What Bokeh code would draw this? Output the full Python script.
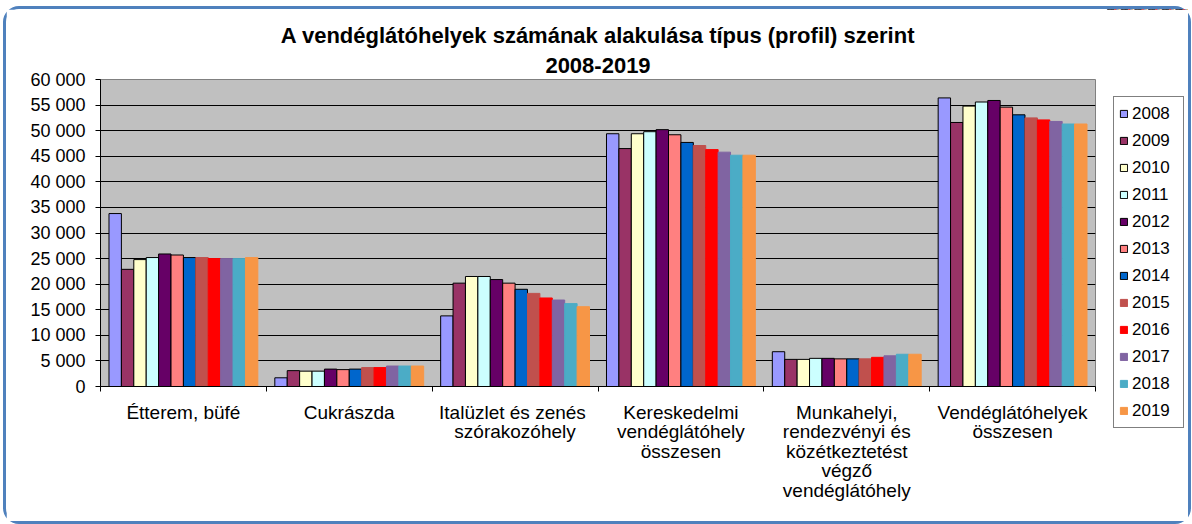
from bokeh.plotting import figure
from bokeh.layouts import row
from bokeh.models import (ColumnDataSource, Range1d, LinearAxis, FixedTicker, Legend, LegendItem, Title)
from bokeh.transform import dodge
from bokeh.embed import file_html
from bokeh.resources import INLINE

categories = [
    "Étterem, büfé",
    "Cukrászda",
    "Italüzlet  és zenés\nszórakozóhely",
    "Kereskedelmi\nvendéglátóhely\nösszesen",
    "Munkahelyi,\nrendezvényi és\nközétkeztetést\nvégző\nvendéglátóhely",
    "Vendéglátóhelyek\nösszesen",
]
years = ["2008", "2009", "2010", "2011", "2012", "2013", "2014", "2015", "2016", "2017", "2018", "2019"]

v2008 = [33800, 1700, 13800, 49400, 6800, 56400]
v2009 = [22900, 3100, 20200, 46500, 5300, 51600]
v2010 = [24800, 3000, 21500, 49400, 5300, 54800]
v2011 = [25200, 3000, 21500, 49800, 5500, 55600]
v2012 = [25900, 3400, 20900, 50200, 5500, 55900]
v2013 = [25700, 3300, 20200, 49200, 5400, 54600]
v2014 = [25200, 3400, 19000, 47700, 5400, 53100]
v2015 = [25200, 3700, 18200, 47100, 5400, 52500]
v2016 = [25000, 3700, 17300, 46300, 5700, 52100]
v2017 = [25000, 4000, 16900, 45800, 6000, 51800]
v2018 = [25000, 4000, 16200, 45200, 6300, 51300]
v2019 = [25200, 4000, 15600, 45200, 6300, 51300]
series = [v2008, v2009, v2010, v2011, v2012, v2013, v2014, v2015, v2016, v2017, v2018, v2019]

colors = ["#9999FF", "#993366", "#FFFFCC", "#CCFFFF", "#660066", "#FF8080", "#0066CC",
          "#C0504D", "#FF0000", "#8064A2", "#4BACC6", "#F79646"]
outlines = ["black"] * 7 + [None] * 5

y_ticks = list(range(0, 60001, 5000))
y_labels = {t: (f"{t:,}".replace(",", " ")) for t in y_ticks}

FONT = "Liberation Sans"

ncat = len(categories)
centers = [i + 0.5 for i in range(ncat)]
bounds = list(range(ncat + 1))
data = {"xc": centers, "cat": categories}
for y, s in zip(years, series):
    data[y] = s
source = ColumnDataSource(data)

H = 512
p = figure(x_range=Range1d(0, ncat), y_range=Range1d(0, 60000),
           width=1100, height=H, output_backend="svg", toolbar_location=None,
           x_axis_location=None, y_axis_location="left",
           min_border_left=94, min_border_right=11, min_border_top=70, min_border_bottom=135)

p.background_fill_color = "#C0C0C0"
p.border_fill_color = "white"
p.outline_line_color = "#808080"
p.outline_line_width = 1

p.xgrid.grid_line_color = None
p.ygrid.grid_line_color = "black"
p.ygrid.grid_line_width = 1
p.ygrid.ticker = FixedTicker(ticks=y_ticks)

yax = p.yaxis[0]
yax.ticker = FixedTicker(ticks=y_ticks)
yax.major_label_overrides = y_labels
yax.major_label_text_font = FONT
yax.major_label_text_font_size = "18px"
yax.major_label_text_color = "black"
yax.axis_line_color = "black"
yax.major_tick_line_color = "black"
yax.major_tick_in = 0
yax.major_tick_out = 5
yax.minor_tick_line_color = None
yax.major_label_standoff = 10

# category labels at centers, separator ticks (minor) at the boundaries
cat_axis = LinearAxis(ticker=FixedTicker(ticks=centers, minor_ticks=bounds))
cat_axis.major_label_overrides = {c: lab for c, lab in zip(centers, categories)}
cat_axis.axis_line_color = "black"
cat_axis.major_tick_line_color = None
cat_axis.minor_tick_line_color = "black"
cat_axis.minor_tick_in = 0
cat_axis.minor_tick_out = 5
cat_axis.major_tick_in = 0
cat_axis.major_tick_out = 5
cat_axis.major_label_text_font = FONT
cat_axis.major_label_text_font_size = "19px"
cat_axis.major_label_text_color = "black"
cat_axis.major_label_text_line_height = 0.93
cat_axis.major_label_standoff = 10
p.add_layout(cat_axis, "below")

n = len(years)
bar_w = 0.0748
for i, (yr, c, lc) in enumerate(zip(years, colors, outlines)):
    off = (i - (n - 1) / 2) * bar_w
    p.vbar(x=dodge("xc", off), top=yr, width=bar_w, source=source,
           fill_color=c, line_color=lc if lc else c, line_width=1)

t2 = Title(text="2008-2019", align="center", text_font=FONT, text_font_size="22px",
           text_font_style="bold", text_color="black", standoff=13)
t1 = Title(text="A vendéglátóhelyek számának alakulása típus (profil) szerint", align="center",
           text_font=FONT, text_font_size="22px", text_font_style="bold", text_color="black", standoff=3)
p.add_layout(t2, "above")
p.add_layout(t1, "above")

# legend panel: same series with the same styles, kept just outside its (empty) view
lf = figure(x_range=Range1d(0, ncat), y_range=Range1d(-120000, -60000),
            width=82, height=H, output_backend="svg", toolbar_location=None,
            x_axis_location=None, y_axis_location=None,
            min_border_left=0, min_border_right=0, min_border_top=0, min_border_bottom=0)
lf.frame_align = False
lf.grid.grid_line_color = None
lf.outline_line_color = None
lf.background_fill_color = "white"
lf.border_fill_color = "white"
items = []
for i, (yr, c, lc) in enumerate(zip(years, colors, outlines)):
    off = (i - (n - 1) / 2) * bar_w
    r = lf.vbar(x=dodge("xc", off), top=yr, width=bar_w, source=source,
                fill_color=c, line_color=lc if lc else c, line_width=1)
    items.append(LegendItem(label=yr, renderers=[r]))

legend = Legend(items=items, location=(7, 93))
legend.label_text_font = FONT
legend.label_text_font_size = "17px"
legend.label_text_color = "black"
legend.glyph_width = 9
legend.glyph_height = 9
legend.label_height = 23
legend.label_width = 46
legend.spacing = 4
legend.padding = 5
legend.margin = 0
legend.label_standoff = 4
legend.border_line_color = "black"
legend.border_line_width = 1
legend.background_fill_color = "white"
legend.background_fill_alpha = 1
lf.add_layout(legend, "center")

layout = row(p, lf, spacing=0)
layout.styles = {"border": "3px solid #4F81BD", "border-radius": "16px", "margin": "6px 0 0 3px"}

open("out.html", "w").write(file_html(layout, INLINE))
